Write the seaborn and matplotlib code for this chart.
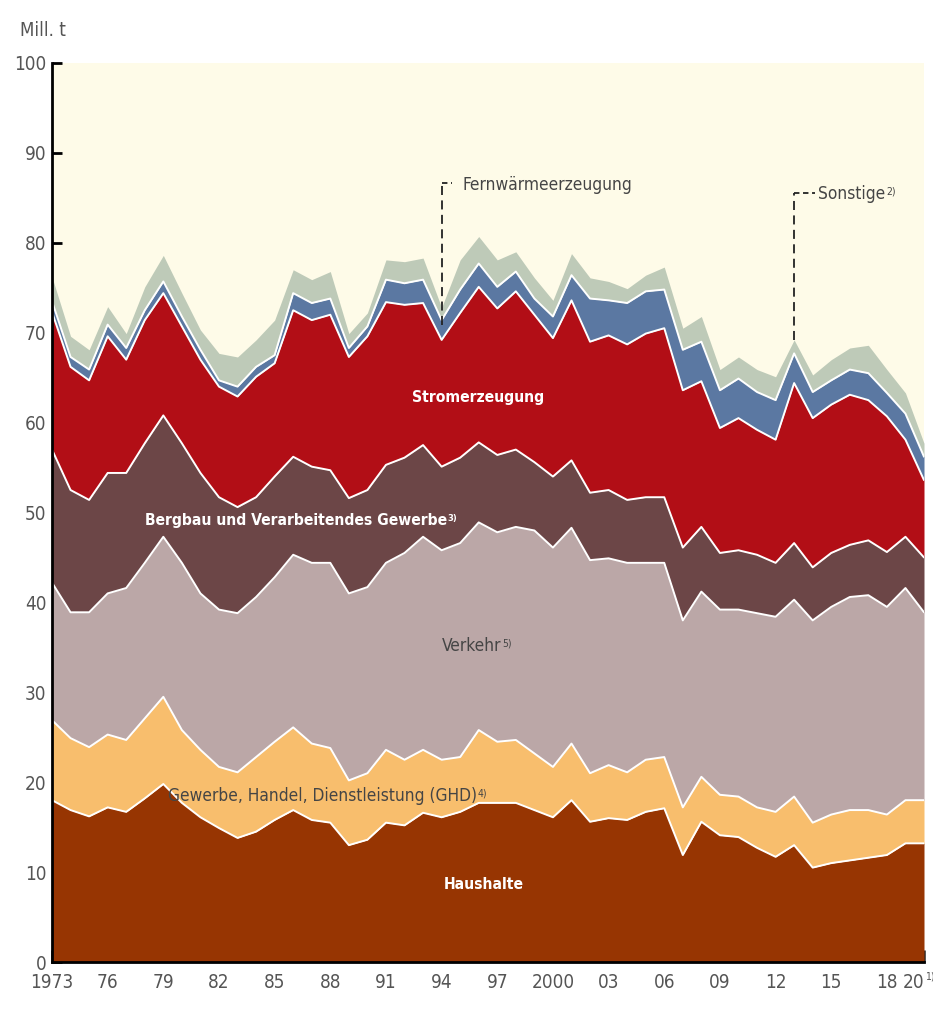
import os
import numpy as np
import pandas as pd
import matplotlib
matplotlib.use("Agg")
import matplotlib.pyplot as plt
from matplotlib import font_manager
from matplotlib.font_manager import FontProperties
import seaborn as sns

years = list(range(1973, 2021))

# sector emissions in Mill. t (bottom to top)
haushalte = [18.0, 16.9, 16.2, 17.2, 16.7, 18.2, 19.8, 17.7, 16.1, 14.9, 13.8, 14.5, 15.8, 16.9, 15.8, 15.5,
             13.0, 13.6, 15.5, 15.2, 16.6, 16.1, 16.7, 17.7, 17.7, 17.7, 16.9, 16.1, 18.0, 15.6, 16.0, 15.8,
             16.7, 17.1, 11.9, 15.6, 14.1, 13.9, 12.7, 11.7, 13.0, 10.5, 11.0, 11.3, 11.6, 11.9, 13.2, 13.2]
ghd = [8.9, 8.0, 7.7, 8.1, 8.0, 8.9, 9.7, 8.1, 7.5, 6.8, 7.3, 8.3, 8.7, 9.2, 8.5, 8.3,
       7.2, 7.4, 8.1, 7.3, 7.0, 6.4, 6.1, 8.1, 6.8, 7.0, 6.3, 5.6, 6.3, 5.4, 5.9, 5.3,
       5.8, 5.7, 5.3, 5.0, 4.5, 4.5, 4.5, 5.0, 5.4, 5.0, 5.4, 5.6, 5.3, 4.5, 4.8, 4.8]
verkehr = [15.3, 14.0, 15.0, 15.7, 16.9, 17.3, 17.8, 18.6, 17.4, 17.5, 17.7, 17.8, 18.3, 19.2, 20.1, 20.6,
           20.8, 20.7, 20.8, 23.0, 23.7, 23.3, 23.8, 23.1, 23.3, 23.7, 24.8, 24.4, 24.0, 23.7, 23.0, 23.3,
           21.9, 21.6, 20.8, 20.6, 20.6, 20.8, 21.6, 21.7, 21.9, 22.5, 23.1, 23.7, 23.9, 23.1, 23.6, 20.9]
bergbau = [14.8, 13.6, 12.5, 13.4, 12.8, 13.3, 13.5, 13.3, 13.4, 12.5, 11.8, 11.1, 11.2, 10.9, 10.7, 10.3,
           10.6, 10.8, 10.9, 10.6, 10.2, 9.3, 9.5, 8.9, 8.6, 8.6, 7.6, 7.9, 7.5, 7.5, 7.6, 7.0,
           7.3, 7.3, 8.1, 7.2, 6.3, 6.6, 6.5, 6.0, 6.3, 5.9, 6.0, 5.8, 6.1, 6.1, 5.7, 6.1]
strom = [15.3, 13.7, 13.3, 15.2, 12.6, 13.7, 13.6, 13.0, 12.6, 12.3, 12.3, 13.4, 12.6, 16.3, 16.3, 17.3,
         15.7, 17.1, 18.1, 17.0, 15.8, 14.1, 16.1, 17.3, 16.3, 17.6, 16.4, 15.4, 17.8, 16.8, 17.2, 17.3,
         18.2, 18.8, 17.5, 16.2, 13.9, 14.7, 13.9, 13.7, 17.8, 16.6, 16.5, 16.7, 15.6, 15.1, 10.8, 8.6]
fernwaerme = [1.2, 1.1, 1.2, 1.3, 1.3, 1.1, 1.3, 1.1, 1.1, 0.7, 1.1, 1.1, 0.9, 1.9, 1.9, 1.8,
              1.0, 1.1, 2.5, 2.4, 2.6, 2.2, 2.6, 2.6, 2.4, 2.2, 1.8, 2.4, 2.8, 4.8, 3.9, 4.6,
              4.7, 4.3, 4.5, 4.4, 4.2, 4.4, 4.2, 4.4, 3.3, 2.9, 2.7, 2.8, 3.0, 2.6, 2.9, 2.6]
sonstige = [2.7, 2.3, 2.2, 2.0, 1.6, 2.6, 2.9, 2.6, 2.2, 3.0, 3.3, 3.0, 3.9, 2.6, 2.6, 3.0,
            1.6, 1.5, 2.2, 2.4, 2.4, 1.4, 3.3, 3.0, 3.0, 2.2, 2.3, 1.8, 2.4, 2.3, 2.1, 1.6,
            1.8, 2.5, 2.4, 2.8, 2.3, 2.4, 2.5, 2.6, 1.5, 1.9, 2.3, 2.4, 3.1, 2.6, 2.3, 1.5]

tick_years = list(range(1973, 2021, 3)) + [2020]
tick_labels = ["1973", "76", "79", "82", "85", "88", "91", "94", "97", "2000",
               "03", "06", "09", "12", "15", "18", "20"]

colors = ["#973502", "#F8BE6D", "#BBA7A7", "#6C4647", "#B20E16", "#5B78A2", "#BECAB8"]
bg = "#FEFBE8"
grey_txt = "#454545"

sns.set_theme(style="white")


def find_font(bold):
    # prefer a narrow / condensed face, the original lettering is very condensed
    files = [f.fname for f in font_manager.fontManager.ttflist]
    wanted = ["dejavusanscondensed", "liberationsansnarrow", "robotocondensed", "opensans_condensed",
              "opensanscondensed", "notosanscondensed", "opensans-condensed", "roboto_condensed"]
    for key in wanted:
        for fn in files:
            b = os.path.basename(fn).lower().replace(" ", "")
            if key not in b or "italic" in b or "oblique" in b:
                continue
            is_bold = "bold" in b and "semibold" not in b and "extrabold" not in b
            is_other = any(w in b for w in ["light", "thin", "medium", "black", "semibold", "extrabold"])
            if bold and is_bold and not is_other:
                return FontProperties(fname=fn)
            if not bold and not is_bold and not is_other:
                return FontProperties(fname=fn)
    return FontProperties(family="Liberation Sans", weight="bold" if bold else "normal")


fp_reg = find_font(False)
fp_bold = find_font(True)

series = [haushalte, ghd, verkehr, bergbau, strom, fernwaerme, sonstige]
cum = np.cumsum(np.array(series), axis=0)

fig = plt.figure(figsize=(9.33, 10.10), dpi=100)
ax = fig.add_axes([52 / 933, 1 - 962 / 1010, (924 - 52) / 933, (962 - 63) / 1010])
ax.set_facecolor(bg)

ax.stackplot(years, *series, colors=colors, linewidth=0)

# thin white boundaries between the layers
for i in range(len(series) - 1):
    df = pd.DataFrame({"year": years, "val": cum[i]})
    sns.lineplot(data=df, x="year", y="val", ax=ax, color="white", linewidth=1.4, legend=False)

ax.set_xlim(1973, 2020)
ax.set_ylim(0, 100)
ax.set_xlabel("")
ax.set_ylabel("")
ax.set_yticks(range(0, 101, 10))
ax.set_xticks(tick_years)
ax.set_xticklabels(tick_labels)
ax.set_xticks(years, minor=True)
for s in ["top", "right"]:
    ax.spines[s].set_visible(False)
for s in ["left", "bottom"]:
    ax.spines[s].set_color("black")
    ax.spines[s].set_linewidth(2)
    ax.spines[s].set_zorder(5)

renderer = fig.canvas.get_renderer()
px_per_year = (924 - 52) / (2020 - 1973)


def width_at(s, fp, size):
    t = fig.text(0, 0, s, fontproperties=fp, fontsize=size)
    w = t.get_window_extent(renderer).width
    t.remove()
    return w


def size_for(s, fp, target):
    return 20 * target / width_at(s, fp, 20)


# tick labels: "1973" is about 32 px wide in the original, the glyphs are taller though
tick_fp = fp_reg.copy()
tick_fp.set_size(min(size_for("1973", fp_reg, 32) * 1.35, 17))
ax.tick_params(axis="y", direction="in", length=7, width=2, color="black", pad=4, left=True)
ax.tick_params(axis="x", which="both", direction="in", length=9, width=1.8, color="#222222",
               pad=8, bottom=True)
for lbl in ax.get_xticklabels() + ax.get_yticklabels():
    lbl.set_fontproperties(tick_fp)
    lbl.set_color("#555555")
ax.get_xticklabels()[-1].set_horizontalalignment("right")
last = ax.get_xticklabels()[-1]
ax.annotate("1)", xy=(1, 1), xycoords=last, xytext=(0.5, 1), textcoords="offset points",
            va="top", ha="left", fontproperties=fp_reg, fontsize=tick_fp.get_size() * 0.55,
            color="#555555", annotation_clip=False)

# one size for the bold labels, one for the plain ones (fitted on the longest label)
size_bold = min(size_for("Bergbau und Verarbeitendes Gewerbe", fp_bold, 272) * 1.12, 18)
size_reg = min(size_for("Gewerbe, Handel, Dienstleistung (GHD)", fp_reg, 268) * 1.15, 18)


def label(x, y, main, sup, fp, size, color, ha="center"):
    w_main = width_at(main, fp, size)
    w_sup = width_at(sup, fp, size * 0.6) if sup else 0
    total = w_main + w_sup
    x_left = x - total / 2 / px_per_year if ha == "center" else x
    t = ax.text(x_left, y, main, fontproperties=fp, fontsize=size, color=color,
                ha="left", va="center", zorder=6)
    if sup:
        ax.annotate(sup, xy=(1, 0.92), xycoords=t, xytext=(0.5, 0), textcoords="offset points",
                    va="top", ha="left", fontproperties=fp, fontsize=size * 0.6, color=color, zorder=6)
    return t


fig.text(20 / 933, 1 - 30 / 1010, "Mill. t", fontproperties=fp_reg,
         fontsize=min(size_for("Mill. t", fp_reg, 38) * 1.2, 17), color="#555555",
         va="center", ha="left")

# layer labels
label(1995.95, 62.8, "Stromerzeugung", "", fp_bold, size_bold, "white")
label(1986.4, 49.1, "Bergbau und Verarbeitendes Gewerbe", "3)", fp_bold, size_bold, "white")
label(1995.9, 35.1, "Verkehr", "5)", fp_reg, size_reg, grey_txt)
label(1987.85, 18.5, "Gewerbe, Handel, Dienstleistung (GHD)", "4)", fp_reg, size_reg, grey_txt)
label(1996.25, 8.6, "Haushalte", "", fp_bold, size_bold, "white")

# leader lines for the thin layers
i94 = years.index(1994)
ax.plot([1994, 1994], [cum[5][i94] - 0.5, 86.65], ls=(0, (5, 3)), color="#222222", lw=1.3)
ax.plot([1994, 1994.55], [86.65, 86.65], ls=(0, (3, 2)), color="#222222", lw=1.3)
label(1995.1, 86.4, "Fernwärmeerzeugung", "", fp_reg, size_reg, grey_txt, ha="left")

i13 = years.index(2013)
ax.plot([2013, 2013], [cum[6][i13], 85.5], ls=(0, (5, 3)), color="#222222", lw=1.3)
ax.plot([2013, 2014.1], [85.5, 85.5], ls=(0, (3, 2)), color="#222222", lw=1.3)
label(2014.3, 85.4, "Sonstige", "2)", fp_reg, size_reg, grey_txt, ha="left")

fig.savefig("out.png", dpi=100)
